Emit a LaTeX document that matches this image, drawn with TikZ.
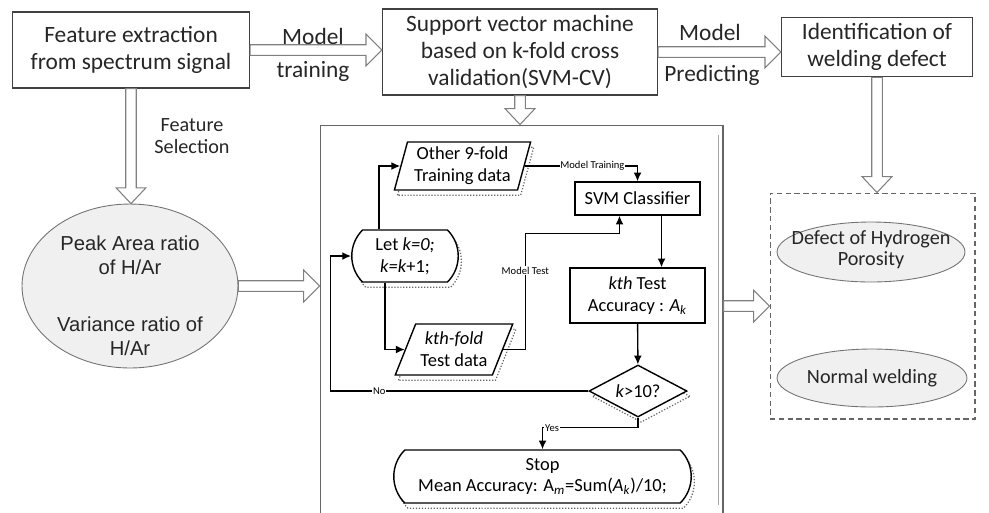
\documentclass[tikz,border=0pt]{standalone}
\usepackage{fontspec}
\setmainfont{Carlito}
\newfontfamily\arialfont{Liberation Sans}
\usetikzlibrary{arrows.meta,calc,shapes.geometric,shapes.misc}

\tikzset{
  bigbox/.style={draw=black!75, line width=0.8pt, align=center, text=black!85,
    font=\fontsize{13.3}{15.5}\selectfont},
  biglabel/.style={text=black!85, font=\fontsize{13.3}{15.5}\selectfont},
  oval/.style={ellipse, draw=black!55, fill=black!6, line width=0.5pt, inner sep=0pt},
  ovaltext/.style={align=center, text=black!85, font=\fontsize{11.5}{12}\selectfont},
  blk/.style={draw=black!50, fill=white, line width=0.6pt},
  harr/.style={to path={let \p1=(\tikztostart), \p2=(\tikztotarget) in
    (\x1,\y1+3pt) -- (\x2-9pt,\y1+3pt) -- (\x2-9pt,\y1+9pt) -- (\x2,\y1)
    -- (\x2-9pt,\y1-9pt) -- (\x2-9pt,\y1-3pt) -- (\x1,\y1-3pt) -- cycle}},
  varr/.style={to path={let \p1=(\tikztostart), \p2=(\tikztotarget) in
    (\x1-3pt,\y1) -- (\x1-3pt,\y2+9pt) -- (\x1-8.5pt,\y2+9pt) -- (\x1,\y2)
    -- (\x1+8.5pt,\y2+9pt) -- (\x1+3pt,\y2+9pt) -- (\x1+3pt,\y1) -- cycle}},
  fl/.style={draw=black, line width=0.8pt, fill=white, align=center,
    font=\fontsize{10.5}{12.5}\selectfont, inner sep=1pt},
  dots/.style={preaction={draw=black!60, densely dotted, fill=none, line width=0.7pt,
    transform canvas={shift={(1.8pt,-3pt)}}}},
  io/.style={fl, dots, trapezium, trapezium stretches=true},
  term/.style={fl, dots, rounded rectangle, rounded rectangle arc length=90},
  proc/.style={fl, rectangle},
  cond/.style={fl, dots, diamond, aspect=1.9},
  tiny/.style={font=\fontsize{6}{7}\selectfont, fill=white, inner sep=0.5pt},
  line/.style={draw=black, line width=0.8pt}
}

\begin{document}
\begin{tikzpicture}[x=0.02cm, y=-0.02cm, >={Latex[length=5pt,width=4.5pt]}]
        \useasboundingbox (0,0) rectangle (989,512);

        % top row
        \node[bigbox, minimum width=4.74cm, minimum height=1.52cm] (fe) at (131,50)
          {Feature extraction\\from spectrum signal};
        \node[bigbox, minimum width=5.5cm, minimum height=1.6cm] (svm) at (520,52)
          {Support vector machine\\based on k-fold cross\\validation(SVM-CV)};
        \node[bigbox, minimum width=3.82cm, minimum height=1.14cm] (iden) at (877,47)
          {Identification of\\welding defect};

        \node[biglabel] (mt) at (313,36) {Model};
        \node[biglabel] (tr) at (313,71) {training};
        \node[biglabel] (mp) at (710,32) {Model};
        \node[biglabel] (pr) at (712,75) {Predicting};
        \node[align=center, text=black!85, font=\fontsize{11.5}{12.5}\selectfont] (fs) at (192,136)
          {Feature\\Selection};

        % left ellipse
        \node[oval, minimum width=4.32cm, minimum height=3.28cm,
          label={[ovaltext, font=\arialfont\fontsize{11.5}{13.6}\selectfont, yshift=-0.2cm]center:{Peak Area ratio\\of H/Ar\\[19pt]Variance ratio of\\H/Ar}}]
          (ratio) at (130,286) {};

        % middle panel
        \node[draw=black!60, line width=0.6pt, minimum width=8.06cm, minimum height=8.4cm] (panel) at (521.5,335) {};
        \draw[black!35, line width=1pt] ($(panel.north east)+(-5,10)$) -- ++(0,370);

        % right output box
        \node[draw=black!60, line width=0.6pt, dash pattern=on 3pt off 2pt,
          minimum width=4.1cm, minimum height=4.52cm] (out) at (872.5,306) {};
        \node[oval, minimum width=3.76cm, minimum height=1.2cm,
          label={[ovaltext, yshift=0.04cm]center:{Defect of Hydrogen\\Porosity}}] (por) at (871,252) {};
        \node[oval, minimum width=3.8cm, minimum height=1.16cm,
          label={[ovaltext]center:Normal welding}] (nw) at (872,378) {};

        % hollow arrows
        \draw[blk] (fe.east) to[harr] (svm.west);
        \draw[blk] (svm.east) to[harr] (iden.west);
        \draw[blk] (fe.south) to[varr] (ratio.north);
        \draw[blk] (svm.south) to[varr] (panel.north);
        \draw[blk] (iden.south) to[varr] (out.north);
        \draw[blk] (ratio.east) to[harr] (panel.west);
        \draw[blk] (panel.east |- out.west) to[harr] (out.west);

        % flowchart
        \node[term, minimum width=2.2cm, minimum height=1.04cm] (let) at (405,256)
          {Let \textit{k=0;}\\\textit{k=k}+1;};
        \node[io, trapezium left angle=74, trapezium right angle=106,
          minimum width=2.74cm, minimum height=0.96cm] (train) at (462.5,166)
          {Other 9-fold\\Training data};
        \node[io, trapezium left angle=64, trapezium right angle=116,
          minimum width=2.36cm, minimum height=1.02cm] (test) at (454,349.5)
          {\textit{kth-fold}\\Test data};
        \node[proc, minimum width=2.5cm, minimum height=0.66cm] (cls) at (637.5,198.5)
          {SVM Classifier};
        \node[proc, minimum width=2.7cm, minimum height=1.1cm] (acc) at (637.5,295.5)
          {\textit{kth} Test\\Accuracy : \textit{A}\textsubscript{\textit{k}}};
        \node[cond, minimum width=1.96cm, minimum height=1.04cm, inner sep=0pt] (dec) at (638,391)
          {\textit{k}>10?};
        \node[term, minimum width=6.02cm, minimum height=1.06cm] (stop) at (542.5,476.5)
          {Stop\\Mean Accuracy: A\textsubscript{\textit{m}}=Sum(\textit{A}\textsubscript{\textit{k}})/10;};

        \draw[line, ->] ($(let.north)+(-26,0)$) |- (train);
        \draw[line, ->] (train) -| node[tiny, pos=0.3] {Model Training} (cls);
        \draw[line, ->] ($(cls.south)+(24,0)$) -- ($(acc.north)+(24,0)$);
        \draw[line, ->] (acc) -- (dec);
        \draw[line, ->] (dec.south) -- ++(0,10) -| node[tiny, pos=0.45] {Yes} (stop);
        \draw[line, ->] (dec.west) -- ++(-258,0) node[tiny, pos=0.81] {No} |- (let.west);
        \draw[line, ->] ($(let.south)+(-20,0)$) |- (test);
        \draw[line, ->] (test.east) -- ++(22,0) -- ++(0,-116) node[tiny, pos=0.68] {Model Test}
          -| ($(cls.south)+(-18,0)$);
      \end{tikzpicture}
\end{document}
